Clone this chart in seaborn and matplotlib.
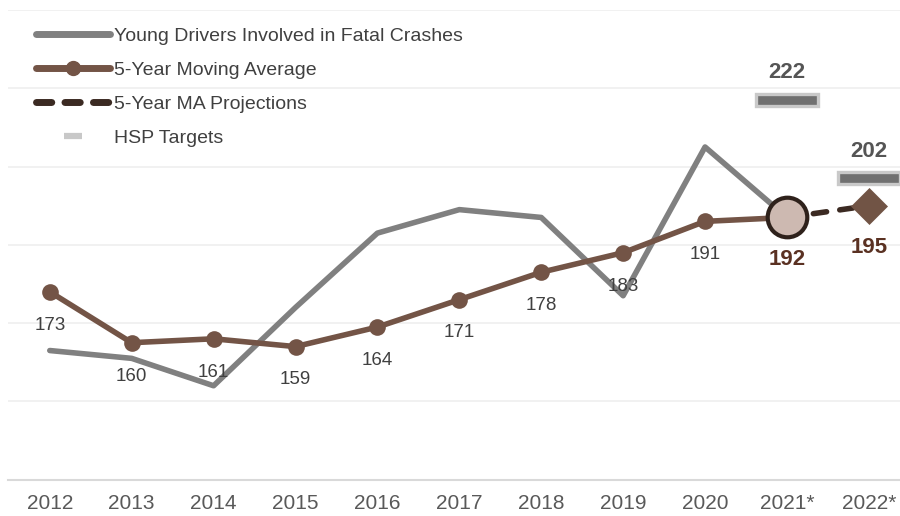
import numpy as np
import pandas as pd
import matplotlib
matplotlib.use("Agg")
import matplotlib.pyplot as plt
from matplotlib.lines import Line2D
import seaborn as sns

# ---- data ----
years = ["2012", "2013", "2014", "2015", "2016", "2017", "2018", "2019", "2020", "2021*", "2022*"]
young_drivers = [158, 156, 149, 169, 188, 194, 192, 172, 210, 192]
moving_avg = [173, 160, 161, 159, 164, 171, 178, 183, 191, 192]
proj_years = ["2021*", "2022*"]
proj_values = [192, 195]
target_years = ["2021*", "2022*"]
target_values = [222, 202]

sns.set_style("white")
plt.rcParams["font.family"] = ["Liberation Sans", "DejaVu Sans"]

pos = {y: i for i, y in enumerate(years)}
df_young = pd.DataFrame({"x": [pos[y] for y in years[:len(young_drivers)]], "v": young_drivers})
df_ma = pd.DataFrame({"x": [pos[y] for y in years[:len(moving_avg)]], "v": moving_avg})
df_proj = pd.DataFrame({"x": [pos[y] for y in proj_years], "v": proj_values})

fig = plt.figure(figsize=(9, 5.16), dpi=100)
ax = fig.add_axes([8 / 900, 36.3 / 516, 892 / 900, 469.7 / 516])

GRAY = "#808080"
BROWN = "#735446"
DARK = "#3b2a22"

sns.lineplot(data=df_young, x="x", y="v", ax=ax, color=GRAY, linewidth=4,
             sort=False, estimator=None, zorder=2)
sns.lineplot(data=df_ma, x="x", y="v", ax=ax, color=BROWN, linewidth=4,
             marker="o", markersize=12, markeredgewidth=0, sort=False,
             estimator=None, zorder=3)
sns.lineplot(data=df_proj, x="x", y="v", ax=ax, color=DARK, linewidth=4,
             sort=False, estimator=None, zorder=4, dashes=False)
ax.lines[-1].set_dashes((2.4, 2.4))
ax.lines[-1].set_dash_capstyle("round")

# last actual MA point (large circle) and projection diamond
ax.plot(pos[proj_years[0]], proj_values[0], marker="o", markersize=28.5,
        markerfacecolor="#cdb9b1", markeredgecolor="#2e211b", markeredgewidth=3,
        ls="none", zorder=6)
ax.plot(pos[proj_years[1]], proj_values[1], marker="D", markersize=18.5,
        markerfacecolor="#715445", markeredgecolor="#715445", markeredgewidth=0.5,
        ls="none", zorder=6)

# HSP target bars
bar_h = 3.1
ax.bar([pos[y] for y in target_years], [bar_h] * len(target_values),
       bottom=[v - bar_h / 2 for v in target_values], width=0.75,
       color="#707070", edgecolor="#c9c9c9", linewidth=2.4, zorder=5)
for y, v in zip(target_years, target_values):
    ax.annotate(str(v), (pos[y], v), xytext=(0, 19.5), textcoords="offset points",
                ha="center", va="center", fontsize=16, fontweight="bold",
                color="#555555", zorder=7)

# data labels
for i, v in enumerate(moving_avg[:-1]):
    ax.annotate(str(v), (i, v), xytext=(0, -24), textcoords="offset points",
                ha="center", va="center", fontsize=13.5, color="#404040", zorder=7)
for y, v in zip(proj_years, proj_values):
    ax.annotate(str(v), (pos[y], v), xytext=(0, -30), textcoords="offset points",
                ha="center", va="center", fontsize=16, fontweight="bold",
                color="#5a3122", zorder=7)

# axes styling
ax.set_xlim(-0.51, 10.38)
ax.set_ylim(125, 245)
ax.set_yticks(np.arange(125, 246, 20))
ax.set_yticklabels([])
ax.tick_params(axis="y", length=0)
ax.set_xticks(range(len(years)))
ax.set_xticklabels(years, fontsize=15, color="#595959")
ax.tick_params(axis="x", length=0, pad=10)
ax.set_xlabel("")
ax.set_ylabel("")
ax.grid(axis="y", color="#efefef", linewidth=1.2, zorder=0)
ax.set_axisbelow(True)
for s in ["top", "right", "left"]:
    ax.spines[s].set_visible(False)
ax.spines["bottom"].set_color("#d9d9d9")
ax.spines["bottom"].set_linewidth(1.5)

handles = [
    Line2D([], [], color=GRAY, linewidth=5, solid_capstyle="round"),
    Line2D([], [], color=BROWN, linewidth=5, marker="o", markersize=10,
           solid_capstyle="round"),
    Line2D([], [], color=DARK, linewidth=5, dashes=(2.2, 1.9),
           dash_capstyle="round"),
    Line2D([], [], ls="none", marker="_", markersize=13, markeredgewidth=4.5,
           color="#c8c8c8"),
]
labels = ["Young Drivers Involved in Fatal Crashes", "5-Year Moving Average",
          "5-Year MA Projections", "HSP Targets"]
leg = fig.legend(handles, labels, loc="upper left",
                 bbox_to_anchor=(36 / 900, (516 - 27) / 516),
                 frameon=False, fontsize=14, handlelength=3.8,
                 handletextpad=0.2, labelspacing=0.85, borderpad=0,
                 borderaxespad=0)
for t in leg.get_texts():
    t.set_color("#404040")

fig.savefig("out.png", dpi=100)
